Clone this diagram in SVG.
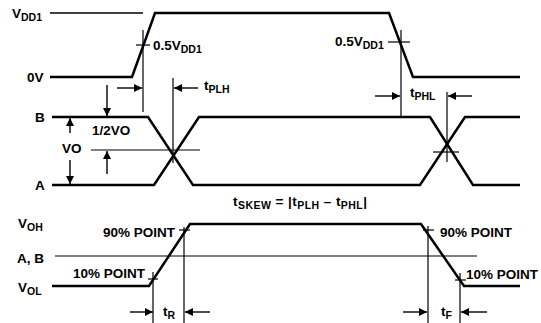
<svg xmlns="http://www.w3.org/2000/svg" width="541" height="323" viewBox="0 0 541 323">
<defs>
<marker id="ah" viewBox="0 0 10 10" refX="10" refY="5" markerWidth="11" markerHeight="8" markerUnits="userSpaceOnUse" orient="auto">
<path d="M0,0 L10,5 L0,10 z" fill="#000"/>
</marker>
<style>
.sig{fill:none;stroke:#000;stroke-width:2.5;stroke-linejoin:miter}
.ref{fill:none;stroke:#000;stroke-width:1.4}
.thin{fill:none;stroke:#000;stroke-width:1.2}
.arr{fill:none;stroke:#000;stroke-width:1.4;marker-end:url(#ah)}
text{font-family:"Liberation Sans",Arial,sans-serif;font-weight:bold;font-size:13.5px;fill:#000}
.sub{font-size:10.5px}
</style>
</defs>
<rect width="541" height="323" fill="#fff"/>
<g id="input-waveform">
<line class="ref" x1="50" y1="13" x2="143" y2="13"/>
<polyline class="sig" points="50,77 132,77 155,13 389,13 413,77 520,77"/>
</g>
<g id="output-waveform">
<polyline class="sig" points="52,117 148,117 193,185 420,185 465,117 520,117"/>
<polyline class="sig" points="52,185 154,185 199,117 430,117 473,185 520,185"/>
</g>
<g id="rise-fall-waveform">
<line class="thin" x1="55" y1="256" x2="477" y2="256"/>
<polyline class="sig" points="52,286 149,286 190,224 421,224 464,286 520,286"/>
</g>
<g id="guides">
<line class="thin" x1="143" y1="30" x2="143" y2="112"/>
<line class="thin" x1="136" y1="45" x2="150" y2="45"/>
<line class="thin" x1="173" y1="78" x2="173" y2="163"/>
<line class="thin" x1="91" y1="150" x2="200" y2="150"/>
<line class="thin" x1="401" y1="30" x2="401" y2="116"/>
<line class="thin" x1="388" y1="42" x2="410" y2="42"/>
<line class="thin" x1="447" y1="92" x2="447" y2="162"/>
<line class="thin" x1="433" y1="152" x2="459" y2="152"/>
<line class="thin" x1="184" y1="227" x2="184" y2="323"/>
<line class="thin" x1="179" y1="230" x2="190" y2="230"/>
<line class="thin" x1="153" y1="272" x2="153" y2="323"/>
<line class="thin" x1="148" y1="279" x2="158" y2="279"/>
<line class="thin" x1="428" y1="226" x2="428" y2="323"/>
<line class="thin" x1="423" y1="230" x2="434" y2="230"/>
<line class="thin" x1="460" y1="273" x2="460" y2="323"/>
<line class="thin" x1="455" y1="280" x2="466" y2="280"/>
</g>
<g id="connectors">
<line class="arr" x1="117" y1="88" x2="142" y2="88"/>
<line class="arr" x1="198" y1="88" x2="174" y2="88"/>
<line class="arr" x1="375" y1="96" x2="400" y2="96"/>
<line class="arr" x1="472" y1="96" x2="448" y2="96"/>
<line class="arr" x1="70" y1="133" x2="70" y2="118"/>
<line class="arr" x1="70" y1="160" x2="70" y2="184"/>
<line class="arr" x1="107" y1="85" x2="107" y2="116"/>
<line class="arr" x1="107" y1="174" x2="107" y2="151"/>
<line class="arr" x1="130" y1="312" x2="153" y2="312"/>
<line class="arr" x1="210" y1="312" x2="185" y2="312"/>
<line class="arr" x1="403" y1="312" x2="427" y2="312"/>
<line class="arr" x1="487" y1="312" x2="461" y2="312"/>
</g>
<g id="labels">
<text x="12" y="18">V<tspan class="sub" dy="3">DD1</tspan></text>
<text x="27" y="82">0V</text>
<text x="153" y="50">0.5V<tspan class="sub" dy="3">DD1</tspan></text>
<text x="335" y="46">0.5V<tspan class="sub" dy="3">DD1</tspan></text>
<text x="204" y="90">t<tspan class="sub" dy="3">PLH</tspan></text>
<text x="410" y="97">t<tspan class="sub" dy="3">PHL</tspan></text>
<text x="35" y="122">B</text>
<text x="35" y="190">A</text>
<text x="62" y="153">VO</text>
<text x="92" y="135">1/2VO</text>
<text x="233" y="206" textLength="134" lengthAdjust="spacing">t<tspan class="sub" dy="3">SKEW</tspan><tspan dy="-3"> = |t</tspan><tspan class="sub" dy="3">PLH</tspan><tspan dy="-3"> – t</tspan><tspan class="sub" dy="3">PHL</tspan><tspan dy="-3">|</tspan></text>
<text x="18" y="228">V<tspan class="sub" dy="3">OH</tspan></text>
<text x="17" y="263">A, B</text>
<text x="18" y="292">V<tspan class="sub" dy="3">OL</tspan></text>
<text x="175" y="237" text-anchor="end">90% POINT</text>
<text x="145" y="278" text-anchor="end">10% POINT</text>
<text x="440" y="237">90% POINT</text>
<text x="466" y="279">10% POINT</text>
<text x="163" y="316">t<tspan class="sub" dy="3">R</tspan></text>
<text x="441" y="316">t<tspan class="sub" dy="3">F</tspan></text>
</g>
</svg>
